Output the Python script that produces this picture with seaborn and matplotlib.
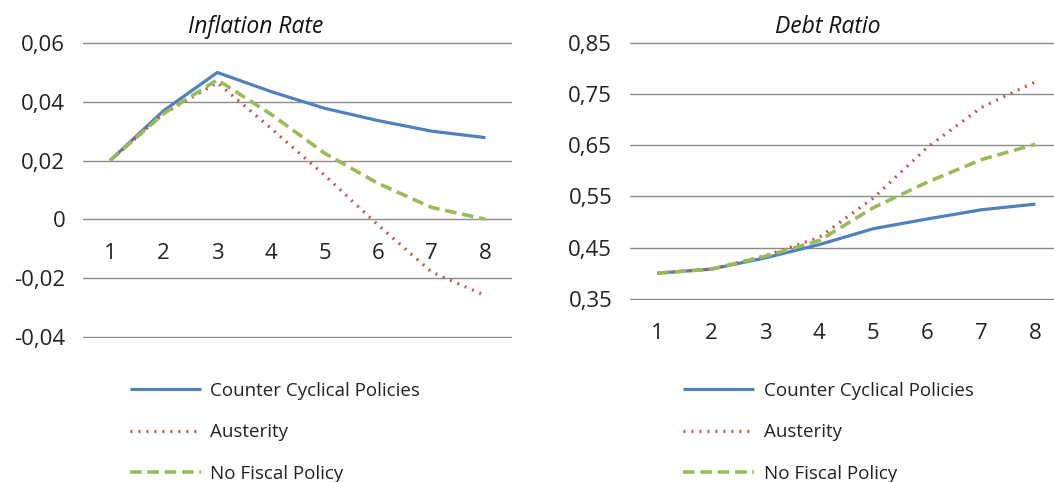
import numpy as np
import pandas as pd
import matplotlib
matplotlib.use('Agg')
import matplotlib.pyplot as plt
import matplotlib.ticker as mticker
import seaborn as sns

sns.set_style('white')
plt.rcParams['font.family'] = ['Open Sans', 'DejaVu Sans']

periods = [1, 2, 3, 4, 5, 6, 7, 8]
series_names = ['Counter Cyclical Policies', 'Austerity', 'No Fiscal Policy']

infl_counter = [0.020, 0.037, 0.050, 0.0435, 0.0378, 0.0336, 0.0300, 0.0278]
infl_austerity = [0.020, 0.036, 0.0465, 0.031, 0.0150, -0.002, -0.018, -0.026]
infl_nofiscal = [0.020, 0.036, 0.0475, 0.0358, 0.0225, 0.0122, 0.0040, 0.0000]

debt_counter = [0.400, 0.408, 0.430, 0.456, 0.487, 0.506, 0.524, 0.535]
debt_austerity = [0.400, 0.408, 0.434, 0.470, 0.547, 0.646, 0.724, 0.774]
debt_nofiscal = [0.400, 0.408, 0.433, 0.464, 0.528, 0.578, 0.622, 0.652]

infl_ticks = [-0.04, -0.02, 0, 0.02, 0.04, 0.06]
debt_ticks = [0.35, 0.45, 0.55, 0.65, 0.75, 0.85]

colors = ['#4F81BD', '#C0504D', '#9BBB59']
styles = [(0, ()), (0, (0.6, 1.9)), (0, (3.2, 1.6))]
widths = [2.3, 2.3, 2.6]


def comma_fmt(decimals):
    def f(v, pos):
        if abs(v) < 1e-9:
            return '0'
        return f'{v:.{decimals}f}'.replace('.', ',')
    return mticker.FuncFormatter(f)


def draw(ax, values, ticks, title, title_x, at_zero):
    handles = []
    for vals, name, c, ls, lw in zip(values, series_names, colors, styles, widths):
        df = pd.DataFrame({'t': periods, 'v': vals})
        sns.lineplot(data=df, x='t', y='v', ax=ax, color=c, linewidth=lw,
                     linestyle=ls, label=name, legend=False)
        handles.append(ax.lines[-1])
    pad = (ticks[-1] - ticks[0]) * 0.004
    ax.set_xlim(0.5, 8.5)
    ax.set_ylim(ticks[0] - pad, ticks[-1] + pad)
    ax.set_yticks(ticks)
    ax.yaxis.set_major_formatter(comma_fmt(2))
    ax.set_xticks(periods)
    ax.set_xticklabels([str(p) for p in periods])
    ax.grid(axis='y', color='#8c8c8c', linewidth=1.0)
    ax.set_axisbelow(True)
    for s in ax.spines.values():
        s.set_visible(False)
    if at_zero:
        ax.spines['bottom'].set_position(('data', 0))
    ax.tick_params(axis='x', length=0, pad=17, labelsize=16, labelcolor='#222222')
    ax.tick_params(axis='y', length=0, pad=13, labelsize=16, labelcolor='#222222')
    ax.set_xlabel('')
    ax.set_ylabel('')
    fig.text(title_x, 0.945, title, style='italic', fontsize=16.5,
             ha='center', va='center', color='#111111')
    return handles


fig = plt.figure(figsize=(10.54, 4.82), dpi=100)
ax1 = fig.add_axes([0.079, 0.299, 0.407, 0.614])
ax2 = fig.add_axes([0.598, 0.378, 0.41, 0.535])

h1 = draw(ax1, [infl_counter, infl_austerity, infl_nofiscal], infl_ticks,
          'Inflation Rate', 0.243, True)
h2 = draw(ax2, [debt_counter, debt_austerity, debt_nofiscal], debt_ticks,
          'Debt Ratio', 0.785, False)

for ax, h, x0 in [(ax1, h1, 0.123), (ax2, h2, 0.648)]:
    fig.legend(h, series_names, loc='upper left', bbox_to_anchor=(x0, 0.208),
               frameon=False, fontsize=13.5, handlelength=3.8, handletextpad=0.5,
               labelspacing=1.25, borderaxespad=0, borderpad=0,
               labelcolor='#222222')

fig.savefig('out.png', dpi=100)
